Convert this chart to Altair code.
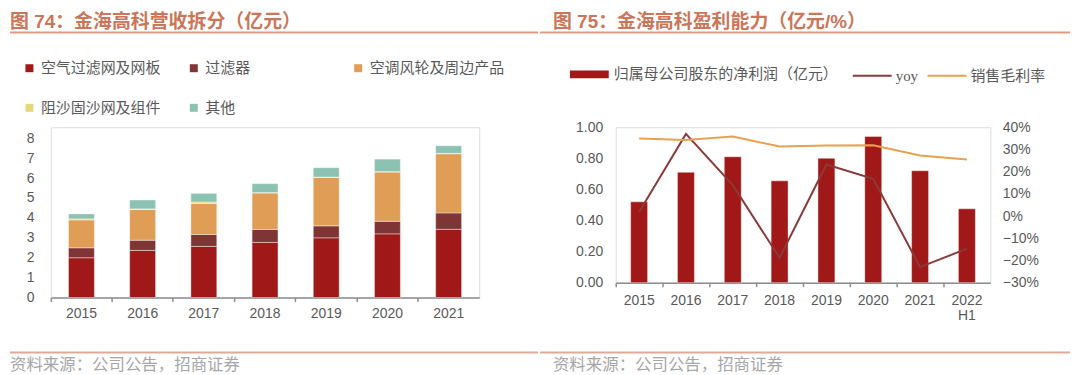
import altair as alt
import pandas as pd

# ---------------- data ----------------
years_l = ['2015', '2016', '2017', '2018', '2019', '2020', '2021']
seg_names = ['空气过滤网及网板', '过滤器', '空调风轮及周边产品', '阻沙固沙网及组件', '其他']
air_filter = [2.00, 2.37, 2.57, 2.77, 3.00, 3.20, 3.43]
filters = [0.50, 0.51, 0.60, 0.65, 0.60, 0.63, 0.82]
ac_fan = [1.40, 1.54, 1.55, 1.83, 2.43, 2.47, 2.97]
sand = [0.05, 0.03, 0.08, 0.02, 0.02, 0.02, 0.02]
other = [0.25, 0.45, 0.43, 0.45, 0.47, 0.63, 0.38]
seg_colors = ['#A01818', '#803535', '#E09D55', '#E6D67E', '#8CC2B2']

years_r = ['2015', '2016', '2017', '2018', '2019', '2020', '2021', '2022H1']
bar_name = '归属母公司股东的净利润（亿元）'
net_profit = [0.52, 0.71, 0.81, 0.655, 0.80, 0.94, 0.72, 0.475]
line_names = ['yoy', '销售毛利率']
yoy = [0.018, 0.37, 0.139, -0.188, 0.232, 0.168, -0.23, -0.147]
gross_margin = [0.349, 0.343, 0.358, 0.313, 0.318, 0.319, 0.273, 0.255]
line_colors = ['#8B3A3A', '#E9A050']

title_l = '图 74：金海高科营收拆分（亿元）'
title_r = '图 75：金海高科盈利能力（亿元/%）'
source = '资料来源：公司公告，招商证券'

# ---------------- tables ----------------
rows = []
for si, (name, vals) in enumerate(zip(seg_names, [air_filter, filters, ac_fan, sand, other])):
    for y, v in zip(years_l, vals):
        rows.append({'year': y, 'segment': name, 'value': v, 'idx': si})
df_l = pd.DataFrame(rows)

df_bar = pd.DataFrame({'year': years_r, 'profit': net_profit, 'name': [bar_name] * len(years_r)})
lrows = []
for name, vals in zip(line_names, [yoy, gross_margin]):
    for y, v in zip(years_r, vals):
        lrows.append({'year': y, 'series': name, 'pct': v})
df_line = pd.DataFrame(lrows)

CJK = 'Noto Sans CJK SC'
LAT = 'Liberation Sans'
TITLE_C = '#CB7559'
LINE_C = '#DE9B82'
LABEL_C = '#595959'
AXIS_C = '#8C8C8C'


def deco(title, x_title, x_line0, x_line1, x_src):
    anchor = alt.Chart(pd.DataFrame({'a': [0]})).mark_rule(opacity=0, strokeWidth=0.1).encode(
        x=alt.value(x_line0), x2=alt.value(x_line0 + 1), y=alt.value(-118))
    t = alt.Chart(pd.DataFrame({'t': [title]})).mark_text(
        align='left', baseline='top', font='Liberation Sans, Noto Sans CJK SC', fontSize=19,
        fontWeight='bold', color=TITLE_C
    ).encode(x=alt.value(x_title), y=alt.value(-115), text='t:N')
    l1 = alt.Chart(pd.DataFrame({'a': [0]})).mark_rule(color=LINE_C, strokeWidth=2).encode(
        x=alt.value(x_line0), x2=alt.value(x_line1), y=alt.value(-95))
    l2 = alt.Chart(pd.DataFrame({'a': [0]})).mark_rule(color='#E2A896', strokeWidth=2).encode(
        x=alt.value(x_line0), x2=alt.value(x_line1), y=alt.value(226))
    s = alt.Chart(pd.DataFrame({'t': [source]})).mark_text(
        align='left', baseline='middle', font=CJK, fontSize=16.5, color='#A6A6A6'
    ).encode(x=alt.value(x_src), y=alt.value(239), text='t:N')
    return [anchor, t, l1, l2, s]


# ---------------- left panel ----------------
x_axis_common = dict(title=None, labelAngle=0, bandPosition=0, ticks=True, tickSize=4,
                     tickColor=AXIS_C, domainColor=AXIS_C, domainWidth=1.5, tickWidth=1.5,
                     labelFontSize=14, labelColor=LABEL_C, labelFont=LAT)

bars_l = alt.Chart(df_l).mark_bar(size=26, stroke='white', strokeWidth=0.4).encode(
    x=alt.X('year:N', sort=years_l, scale=alt.Scale(paddingInner=0, paddingOuter=0),
            axis=alt.Axis(labelPadding=5, **x_axis_common)),
    y=alt.Y('value:Q', stack='zero', scale=alt.Scale(domain=[0, 8.55], nice=False),
            axis=alt.Axis(title=None, values=list(range(9)), grid=False, domain=False, ticks=False,
                          labelPadding=17, labelFontSize=14, labelColor=LABEL_C, labelFont=LAT)),
    color=alt.Color('segment:N', scale=alt.Scale(domain=seg_names, range=seg_colors),
                    legend=alt.Legend(orient='none', legendX=-29, legendY=-67, columns=3,
                                      direction='horizontal', title=None, symbolType='square',
                                      symbolSize=64, symbolStrokeWidth=0, labelFontSize=15,
                                      labelFont=CJK, labelColor=LABEL_C, labelOffset=4,
                                      columnPadding=10, rowPadding=24, gridAlign='all',
                                      labelLimit=400, padding=0)),
    order=alt.Order('idx:Q', sort='ascending'),
)

left = alt.layer(bars_l, *deco(title_l, -41, -41, 489, -41)).properties(width=430, height=171)

# ---------------- right panel ----------------
bars_r = alt.Chart(df_bar).mark_bar(size=17, stroke='white', strokeWidth=0.4).encode(
    x=alt.X('year:N', sort=years_r, scale=alt.Scale(paddingInner=0, paddingOuter=0),
            axis=alt.Axis(labelPadding=7, labelLineHeight=15,
                          labelExpr="datum.value == '2022H1' ? ['2022', 'H1'] : datum.value",
                          **x_axis_common)),
    y=alt.Y('profit:Q', scale=alt.Scale(domain=[0, 1], nice=False),
            axis=alt.Axis(title=None, orient='left', values=[0, 0.2, 0.4, 0.6, 0.8, 1.0], format='.2f',
                          grid=False, domain=False, ticks=False, labelPadding=13, labelFontSize=14,
                          labelColor=LABEL_C, labelFont=LAT)),
    color=alt.Color('name:N', scale=alt.Scale(domain=[bar_name], range=['#A01818']),
                    legend=alt.Legend(orient='none', legendX=-46, legendY=-72.5, title=None,
                                      symbolType='M-1,-0.2L1,-0.2L1,0.2L-1,0.2Z', symbolSize=1521,
                                      symbolStrokeWidth=0, labelFontSize=15, labelFont=CJK,
                                      labelColor=LABEL_C, labelOffset=5, labelLimit=400, padding=0)),
)

lines_r = alt.Chart(df_line).mark_line(strokeWidth=2).encode(
    x=alt.X('year:N', sort=years_r),
    y=alt.Y('pct:Q', scale=alt.Scale(domain=[-0.3, 0.4], nice=False),
            axis=alt.Axis(title=None, orient='right', values=[-0.3, -0.2, -0.1, 0, 0.1, 0.2, 0.3, 0.4],
                          format='.0%', grid=False, domain=False, ticks=False, labelPadding=12,
                          labelFontSize=14, labelColor=LABEL_C, labelFont=LAT)),
    stroke=alt.Stroke('series:N', scale=alt.Scale(domain=line_names, range=line_colors),
                      legend=alt.Legend(orient='none', legendX=237, legendY=-72.5, title=None,
                                        direction='horizontal', columns=2, symbolType='stroke',
                                        symbolSize=1521, symbolStrokeWidth=2, labelFontSize=15,
                                        labelFont='Liberation Serif, Noto Sans CJK SC',
                                        labelColor=LABEL_C, labelOffset=3, columnPadding=5,
                                        labelLimit=400, padding=0)),
)

right = alt.layer(bars_r, lines_r, *deco(title_r, -63, -76, 456, -63)).resolve_scale(
    y='independent').properties(width=376, height=156)

chart = alt.hconcat(left, right, spacing=137, bounds='flush').resolve_scale(
    x='independent', y='independent', color='independent', stroke='independent'
).resolve_legend(color='independent', stroke='independent').properties(
    padding=0, autosize=alt.AutoSizeParams(type='pad')
).configure_view(stroke=None).configure(background='white')

chart.save('out.html', embed_options={'renderer': 'svg', 'actions': False})
